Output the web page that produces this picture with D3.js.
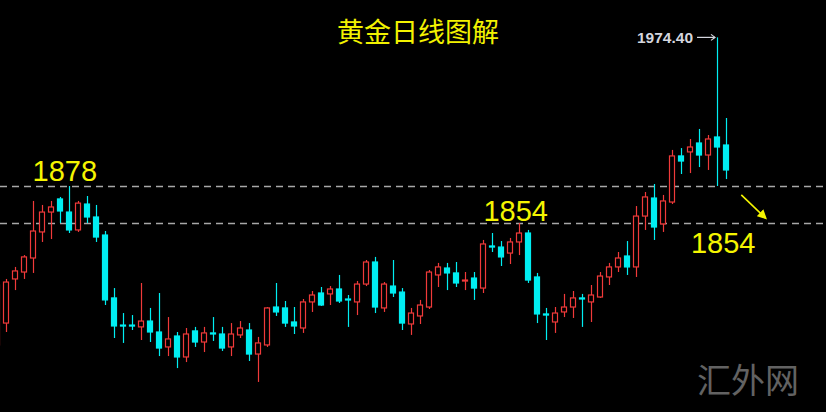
<!DOCTYPE html>
<html>
<head>
<meta charset="utf-8">
<script src="https://cdn.jsdelivr.net/npm/d3@7"></script>
<style>
  html, body { margin: 0; padding: 0; background: #000; }
  svg { display: block; }
</style>
</head>
<body>
<div id="chart"></div>
<script>
// gold daily candles (oldest first)
var opens  = [1774.9, 1789.1, 1817.7, 1822.2, 1831.3, 1848.2, 1861.1, 1869.6, 1861.1, 1849.5,
              1866.3, 1857.9, 1846.2, 1805.4, 1787.8, 1787.8, 1786.6, 1790.4, 1783.3, 1773.6,
              1780.7, 1767.1, 1784.0, 1776.8, 1782.7, 1782.0, 1773.6, 1781.4, 1784.6, 1769.0,
              1774.9, 1799.5, 1798.9, 1789.8, 1785.9, 1802.8, 1808.6, 1808.0, 1811.2, 1804.7,
              1802.8, 1814.4, 1828.7, 1798.9, 1813.1, 1809.2, 1788.5, 1793.7, 1799.5, 1820.3,
              1824.8, 1821.6, 1816.7, 1818.3, 1811.8, 1839.1, 1838.4, 1834.5, 1841.7, 1847.5,
              1819.0, 1795.0, 1789.8, 1796.3, 1799.5, 1805.4, 1802.8, 1806.0, 1819.0, 1825.5,
              1832.6, 1825.5, 1858.5, 1870.2, 1853.4, 1867.6, 1897.5, 1900.1, 1905.9, 1898.1,
              1909.8, 1904.6];
var highs  = [1817.0, 1817.7, 1825.5, 1833.2, 1868.3, 1865.7, 1868.3, 1870.9, 1878.0, 1868.3,
              1871.5, 1865.7, 1848.8, 1811.8, 1795.6, 1794.3, 1815.1, 1798.9, 1808.6, 1793.0,
              1783.3, 1785.9, 1786.6, 1786.6, 1793.0, 1786.6, 1789.1, 1790.4, 1789.1, 1780.1,
              1799.5, 1815.1, 1803.4, 1799.5, 1804.7, 1809.9, 1812.5, 1813.1, 1820.3, 1807.3,
              1816.4, 1830.0, 1832.0, 1815.7, 1830.0, 1811.8, 1798.9, 1804.1, 1823.5, 1828.1,
              1828.1, 1828.7, 1822.2, 1822.2, 1843.0, 1847.5, 1842.3, 1844.3, 1854.0, 1849.5,
              1821.6, 1798.9, 1799.5, 1808.0, 1809.9, 1808.0, 1813.8, 1822.2, 1828.1, 1835.2,
              1842.3, 1865.0, 1874.1, 1879.3, 1872.2, 1901.4, 1902.6, 1908.5, 1915.0, 1911.1,
              1974.4, 1922.1];
var lows   = [1767.1, 1783.3, 1810.5, 1817.7, 1821.6, 1841.7, 1843.6, 1854.0, 1847.5, 1848.2,
              1854.0, 1841.7, 1800.8, 1779.4, 1776.2, 1784.6, 1778.1, 1776.8, 1767.7, 1767.7,
              1759.9, 1763.8, 1773.6, 1770.3, 1777.5, 1771.0, 1767.7, 1779.4, 1764.5, 1750.9,
              1773.6, 1793.7, 1786.6, 1782.0, 1782.7, 1796.3, 1800.2, 1800.8, 1802.1, 1786.6,
              1794.3, 1813.1, 1795.6, 1796.3, 1806.0, 1784.6, 1781.4, 1788.5, 1798.2, 1812.5,
              1810.5, 1812.5, 1810.5, 1804.1, 1808.6, 1835.2, 1826.1, 1827.4, 1833.2, 1815.1,
              1789.1, 1778.1, 1782.7, 1793.0, 1792.4, 1786.6, 1789.8, 1805.4, 1813.8, 1822.2,
              1820.3, 1819.0, 1849.5, 1843.0, 1848.2, 1866.3, 1885.8, 1886.4, 1890.3, 1888.4,
              1878.0, 1882.5];
var closes = [1813.8, 1815.7, 1822.9, 1832.0, 1848.8, 1861.1, 1864.4, 1861.8, 1849.5, 1866.9,
              1857.9, 1844.9, 1804.1, 1787.2, 1787.2, 1787.3, 1790.4, 1783.3, 1772.9, 1778.8,
              1767.1, 1782.0, 1776.8, 1782.7, 1782.0, 1772.9, 1782.0, 1785.9, 1769.0, 1776.2,
              1798.9, 1796.3, 1789.1, 1787.2, 1802.8, 1807.3, 1800.8, 1811.2, 1803.4, 1804.2,
              1814.4, 1828.7, 1799.5, 1814.4, 1808.6, 1789.1, 1795.6, 1800.8, 1822.2, 1825.5,
              1821.6, 1815.1, 1817.0, 1811.8, 1840.4, 1838.4, 1832.0, 1841.7, 1847.5, 1817.0,
              1795.0, 1794.3, 1795.6, 1799.5, 1805.4, 1804.7, 1807.3, 1819.6, 1825.5, 1831.3,
              1825.5, 1858.5, 1870.9, 1851.4, 1868.3, 1897.5, 1894.2, 1903.3, 1898.1, 1908.5,
              1903.3, 1888.4];

// key levels marked on the chart
var levels = [1878, 1854];
var topPrice = 1974.40;
var title = '黄金日线图解';

var width = 826,
    height = 412;

var upColor = '#f03a3a',
    downColor = '#00eef2';

var svg = d3.select('#chart').append('svg')
  .attr('width', width)
  .attr('height', height)
  .style('background', '#000');

// x: one slot of 9px per day, first candle half cut by the left edge
var x = d3.scaleLinear().domain([0, opens.length - 1]).range([-3, 726]);
// y: the two dashed levels sit at 186 and 223
var y = d3.scaleLinear().domain([1854, 1878]).range([223, 186]);
var bodyW = 6;

// dashed support / resistance lines
svg.selectAll('line.level').data(levels).enter().append('line')
  .attr('class', 'level')
  .attr('x1', 0).attr('x2', width)
  .attr('y1', function (d) { return Math.round(y(d)) + 0.5; })
  .attr('y2', function (d) { return Math.round(y(d)) + 0.5; })
  .attr('stroke', '#a8a8a8')
  .attr('stroke-width', 1.3)
  .attr('stroke-dasharray', '7,5');

var candles = svg.selectAll('g.candle').data(d3.range(opens.length)).enter()
  .append('g').attr('class', 'candle');

function isUp(i) { return closes[i] >= opens[i]; }
function col(i) { return isUp(i) ? upColor : downColor; }

// wicks (split so the hollow up bodies stay hollow)
candles.append('line')
  .attr('x1', function (i) { return Math.round(x(i)) + 0.5; })
  .attr('x2', function (i) { return Math.round(x(i)) + 0.5; })
  .attr('y1', function (i) { return y(highs[i]); })
  .attr('y2', function (i) { return y(Math.max(opens[i], closes[i])); })
  .attr('stroke', col).attr('stroke-width', 1.2);
candles.append('line')
  .attr('x1', function (i) { return Math.round(x(i)) + 0.5; })
  .attr('x2', function (i) { return Math.round(x(i)) + 0.5; })
  .attr('y1', function (i) { return y(Math.min(opens[i], closes[i])); })
  .attr('y2', function (i) { return y(lows[i]); })
  .attr('stroke', col).attr('stroke-width', 1.2);

// bodies: red hollow up, cyan filled down
candles.append('rect')
  .attr('x', function (i) { return Math.round(x(i)) - bodyW / 2 + 0.5; })
  .attr('y', function (i) { return y(Math.max(opens[i], closes[i])); })
  .attr('width', bodyW - 1)
  .attr('height', function (i) {
    return Math.max(1, Math.abs(y(opens[i]) - y(closes[i])));
  })
  .attr('fill', function (i) { return isUp(i) ? '#000' : downColor; })
  .attr('stroke', col)
  .attr('stroke-width', 1.2);

// title
svg.append('text')
  .attr('x', 418).attr('y', 42)
  .attr('text-anchor', 'middle')
  .attr('font-family', '"Noto Sans CJK SC", sans-serif')
  .attr('font-size', 27)
  .attr('fill', '#f2f200')
  .text(title);

// level labels
var labelFont = '"Liberation Sans", Arial, sans-serif';
svg.append('text')
  .attr('x', x(3.95)).attr('y', y(levels[0]) - 5)
  .attr('font-family', labelFont).attr('font-size', 29)
  .attr('fill', '#f5f500').text(levels[0]);
svg.append('text')
  .attr('x', x(54.05)).attr('y', y(levels[1]) - 2)
  .attr('font-family', labelFont).attr('font-size', 29)
  .attr('fill', '#f5f500').text(levels[1]);
svg.append('text')
  .attr('x', x(77.1)).attr('y', y(levels[1]) + 30)
  .attr('font-family', labelFont).attr('font-size', 29)
  .attr('fill', '#f5f500').text(levels[1]);

// yellow down arrow
svg.append('defs').append('marker')
  .attr('id', 'ya').attr('viewBox', '0 0 10 10')
  .attr('refX', 8).attr('refY', 5)
  .attr('markerWidth', 6).attr('markerHeight', 6)
  .attr('orient', 'auto')
  .append('path').attr('d', 'M0,0 L10,5 L0,10 z').attr('fill', '#f5f500');
svg.append('line')
  .attr('x1', x(82.7)).attr('y1', y(1872.2))
  .attr('x2', x(85.4)).attr('y2', y(1857.2))
  .attr('stroke', '#f5f500').attr('stroke-width', 1.6)
  .attr('marker-end', 'url(#ya)');

// peak marker
var peakI = highs.indexOf(d3.max(highs));
svg.append('text')
  .attr('x', x(peakI) - 24).attr('y', y(topPrice) + 5.5)
  .attr('text-anchor', 'end')
  .attr('font-family', labelFont).attr('font-weight', 'bold')
  .attr('font-size', 15.5)
  .attr('fill', '#d4d6de')
  .text(topPrice.toFixed(2));
svg.append('line')
  .attr('x1', x(peakI) - 20).attr('x2', x(peakI) - 2)
  .attr('y1', y(topPrice)).attr('y2', y(topPrice))
  .attr('stroke', '#d4d6de').attr('stroke-width', 1.2);
svg.append('path')
  .attr('d', 'M' + (x(peakI) - 6) + ',' + (y(topPrice) - 3) + ' L' + (x(peakI) - 2) + ',' + y(topPrice) + ' L' + (x(peakI) - 6) + ',' + (y(topPrice) + 3))
  .attr('fill', 'none').attr('stroke', '#d4d6de').attr('stroke-width', 1.2);

// watermark
svg.append('text')
  .attr('x', 748).attr('y', 393)
  .attr('text-anchor', 'middle')
  .attr('font-family', '"Noto Sans CJK SC", sans-serif')
  .attr('font-size', 34)
  .attr('fill', '#626262')
  .text('汇外网');
</script>
</body>
</html>
